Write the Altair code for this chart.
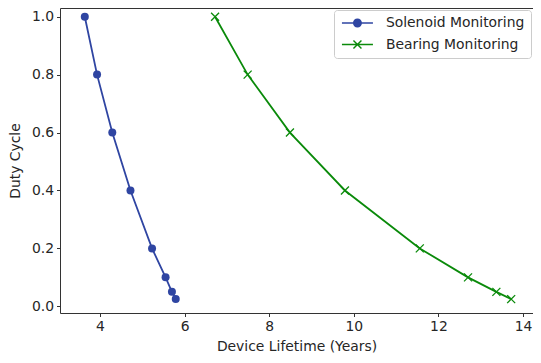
import altair as alt
import pandas as pd

duty = [1.0, 0.8, 0.6, 0.4, 0.2, 0.1, 0.05, 0.025]
solenoid_years = [3.64, 3.93, 4.29, 4.72, 5.23, 5.55, 5.70, 5.79]
bearing_years = [6.72, 7.49, 8.49, 9.79, 11.56, 12.70, 13.37, 13.72]
series_names = ["Solenoid Monitoring", "Bearing Monitoring"]
x_ticks = [4, 6, 8, 10, 12, 14]
y_ticks = [0.0, 0.2, 0.4, 0.6, 0.8, 1.0]

BLUE = "#2f45a2"
GREEN = "#0a8a0a"

rows = []
for xv, yv in zip(solenoid_years, duty):
    rows.append({"series": series_names[0], "x": xv, "y": yv})
for xv, yv in zip(bearing_years, duty):
    rows.append({"series": series_names[1], "x": xv, "y": yv})
df = pd.DataFrame(rows)

FONT = "DejaVu Sans"
TXT = "#262626"

X = alt.X("x:Q", scale=alt.Scale(domain=[3.054, 14.236], nice=False, zero=False),
          axis=alt.Axis(values=x_ticks, format="d", title="Device Lifetime (Years)"))
Y = alt.Y("y:Q", scale=alt.Scale(domain=[-0.023, 1.03], nice=False, zero=False),
          axis=alt.Axis(values=y_ticks, format=".1f", title="Duty Cycle"))

xpath = "M-1,-1L1,1M-1,1L1,-1"

base = alt.Chart(df)
sol = base.transform_filter(alt.datum.series == series_names[0])
bear = base.transform_filter(alt.datum.series == series_names[1])

line_sol = sol.mark_line(color=BLUE, strokeWidth=1.8).encode(x=X, y=Y)
pts_sol = sol.mark_circle(color=BLUE, size=64, opacity=1).encode(x=X, y=Y)
line_bear = bear.mark_line(color=GREEN, strokeWidth=1.8).encode(x=X, y=Y)
pts_bear = bear.mark_point(shape=xpath, filled=False, color=GREEN, size=64,
                           strokeWidth=1.3, opacity=1).encode(x=X, y=Y)

# legend symbols: line + marker (filled paths)
leg_circle = ("M-1,-0.16H5.2V0.16H-1Z "
              "M3.0,0A0.9,0.9 0 1,1 1.2,0A0.9,0.9 0 1,1 3.0,0Z")
leg_x = ("M-1,-0.16V0.16H5.2V-0.16Z "
         "M1.2,-0.7L2.8,0.9L3.0,0.7L1.4,-0.9Z "
         "M2.8,-0.9L1.2,0.7L1.4,0.9L3.0,-0.7Z")

leg = alt.Legend(title=None, orient="none", legendX=274, legendY=2,
                 labelFont=FONT, labelFontSize=13.9, labelColor=TXT,
                 symbolSize=100, symbolStrokeWidth=0, labelOffset=32,
                 padding=6, rowPadding=6.6, fillColor="white",
                 strokeColor="#cccccc", cornerRadius=3)

legend_layer = base.transform_filter("false").mark_point(filled=True, opacity=1).encode(
    x=X, y=Y,
    color=alt.Color("series:N", scale=alt.Scale(domain=series_names, range=[BLUE, GREEN]), legend=leg),
    shape=alt.Shape("series:N", scale=alt.Scale(domain=series_names, range=[leg_circle, leg_x]), legend=leg),
)

chart = alt.layer(line_sol, pts_sol, line_bear, pts_bear, legend_layer).properties(
    width=473, height=305,
    autosize=alt.AutoSizeParams(type="none"),
    padding={"left": 52, "top": 0, "right": 0, "bottom": 42},
).configure_view(
    stroke="#333333", strokeWidth=1
).configure_axis(
    grid=False, domain=False, tickColor="#333333", tickSize=3.5, tickWidth=1,
    labelFont=FONT, labelFontSize=13.9, labelColor=TXT, labelPadding=3,
    titleFont=FONT, titleFontSize=13.9, titleFontWeight="normal", titleColor=TXT,
).configure_axisY(titlePadding=9).configure_axisX(titlePadding=6)

chart.save("out.html", embed_options={"renderer": "svg", "actions": False})
